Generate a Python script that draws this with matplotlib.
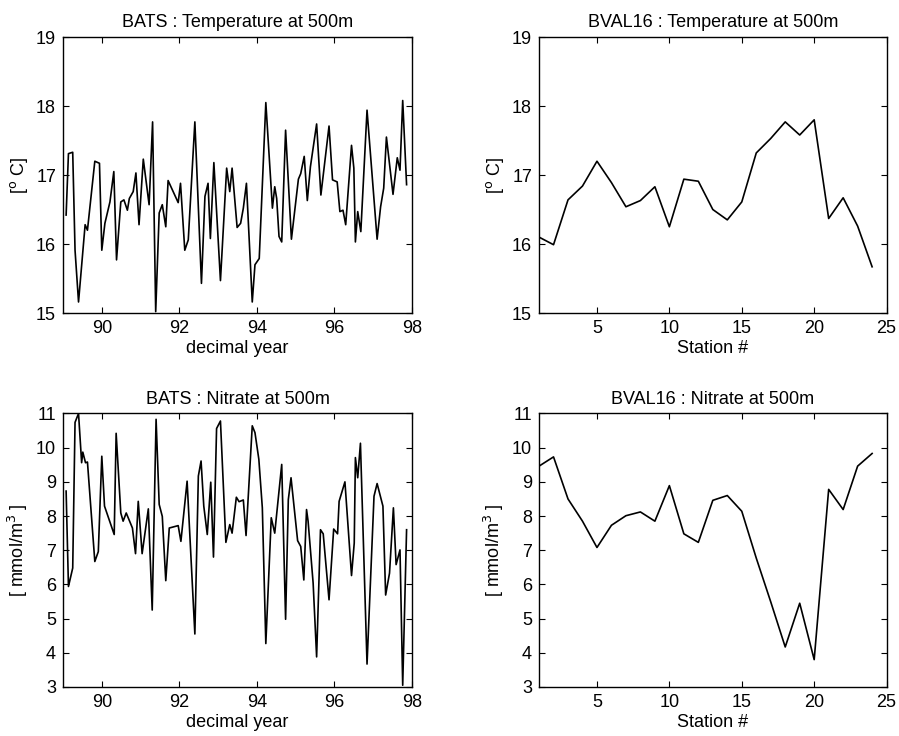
import numpy as np
import matplotlib
matplotlib.use("Agg")
import matplotlib.pyplot as plt

plt.rcParams['font.family'] = ['Liberation Sans', 'DejaVu Sans']
plt.rcParams['font.size'] = 13

# BATS temperature at 500m (decimal year, deg C)
bats_t_year = [89.08, 89.14, 89.25, 89.31, 89.40, 89.57, 89.63, 89.82, 89.94, 90.00,
               90.08, 90.21, 90.31, 90.38, 90.49, 90.57, 90.66, 90.71, 90.81, 90.88,
               90.96, 91.07, 91.22, 91.31, 91.39, 91.48, 91.56, 91.65, 91.71, 91.97,
               92.03, 92.14, 92.23, 92.40, 92.57, 92.66, 92.74, 92.80, 92.89, 93.06,
               93.22, 93.30, 93.36, 93.49, 93.58, 93.65, 93.73, 93.88, 93.95, 94.06,
               94.23, 94.40, 94.46, 94.51, 94.57, 94.64, 94.74, 94.89, 95.07, 95.13,
               95.22, 95.30, 95.38, 95.54, 95.65, 95.86, 95.95, 96.07, 96.14, 96.22,
               96.29, 96.44, 96.50, 96.54, 96.60, 96.68, 96.84, 97.10, 97.19, 97.27,
               97.34, 97.51, 97.62, 97.69, 97.76, 97.86]
bats_temp = [16.42, 17.31, 17.33, 15.91, 15.16, 16.28, 16.20, 17.20, 17.17, 15.91,
             16.30, 16.61, 17.05, 15.77, 16.61, 16.64, 16.49, 16.66, 16.76, 17.03,
             16.28, 17.23, 16.57, 17.77, 15.02, 16.45, 16.57, 16.25, 16.92, 16.60,
             16.88, 15.91, 16.06, 17.77, 15.43, 16.69, 16.88, 16.08, 17.18, 15.47,
             17.10, 16.76, 17.10, 16.24, 16.30, 16.52, 16.88, 15.16, 15.70, 15.79,
             18.05, 16.52, 16.83, 16.66, 16.11, 16.03, 17.65, 16.07, 16.94, 17.02,
             17.27, 16.63, 17.12, 17.74, 16.71, 17.71, 16.93, 16.90, 16.47, 16.49,
             16.28, 17.43, 17.10, 16.03, 16.47, 16.18, 17.94, 16.07, 16.54, 16.81,
             17.55, 16.72, 17.25, 17.07, 18.08, 16.86]

# BATS nitrate at 500m (decimal year, mmol/m3)
bats_n_year = [89.08, 89.14, 89.25, 89.31, 89.40, 89.48, 89.51, 89.58, 89.63, 89.82,
               89.91, 90.00, 90.07, 90.32, 90.37, 90.49, 90.55, 90.63, 90.79, 90.87,
               90.94, 91.04, 91.20, 91.30, 91.40, 91.48, 91.56, 91.65, 91.74, 91.97,
               92.04, 92.20, 92.40, 92.49, 92.56, 92.63, 92.72, 92.81, 92.88, 92.96,
               93.06, 93.20, 93.30, 93.36, 93.47, 93.54, 93.65, 93.72, 93.88, 93.95,
               94.05, 94.14, 94.23, 94.37, 94.46, 94.64, 94.74, 94.81, 94.88, 95.05,
               95.13, 95.21, 95.28, 95.32, 95.45, 95.54, 95.64, 95.71, 95.86, 95.98,
               96.08, 96.12, 96.27, 96.44, 96.51, 96.54, 96.60, 96.67, 96.84, 97.02,
               97.10, 97.25, 97.32, 97.42, 97.52, 97.59, 97.69, 97.76, 97.86]
bats_nitrate = [8.73, 5.94, 6.48, 10.74, 11.00, 9.56, 9.87, 9.56, 9.58, 6.67,
                6.96, 9.75, 8.29, 7.46, 10.42, 8.09, 7.85, 8.09, 7.65, 6.90,
                8.43, 6.90, 8.21, 5.25, 10.83, 8.34, 7.99, 6.11, 7.65, 7.72,
                7.26, 9.02, 4.55, 9.17, 9.61, 8.29, 7.46, 8.99, 6.80, 10.56,
                10.78, 7.23, 7.75, 7.50, 8.55, 8.42, 8.47, 7.43, 10.64, 10.44,
                9.66, 8.24, 4.27, 7.95, 7.50, 9.51, 4.98, 8.48, 9.12, 7.28,
                7.11, 6.13, 8.19, 7.85, 6.04, 3.88, 7.60, 7.48, 5.55, 7.62,
                7.48, 8.43, 9.00, 6.26, 7.21, 9.71, 9.12, 10.13, 3.67, 8.58,
                8.95, 8.29, 5.69, 6.33, 8.24, 6.58, 7.01, 3.05, 7.60]

# BVAL16 section, stations 1..24
stations = list(range(1, 25))
bval_temp = [16.10, 15.99, 16.64, 16.84, 17.20, 16.89, 16.54, 16.63, 16.83, 16.25,
             16.94, 16.91, 16.50, 16.35, 16.61, 17.32, 17.53, 17.77, 17.58, 17.80,
             16.37, 16.67, 16.26, 15.67]
bval_nitrate = [9.46, 9.73, 8.50, 7.85, 7.08, 7.73, 8.01, 8.12, 7.85, 8.89,
                7.48, 7.23, 8.46, 8.60, 8.14, 6.77, 5.49, 4.17, 5.45, 3.80,
                8.78, 8.19, 9.46, 9.83]

fig = plt.figure(figsize=(8.99, 7.36), dpi=100)
ax1 = fig.add_axes([0.0701, 0.5747, 0.3882, 0.3750])
ax2 = fig.add_axes([0.5996, 0.5747, 0.3866, 0.3750])
ax3 = fig.add_axes([0.0701, 0.0666, 0.3882, 0.3716])
ax4 = fig.add_axes([0.5996, 0.0666, 0.3866, 0.3716])

ax1.plot(bats_t_year, bats_temp, color='black', lw=1.2)
ax1.set_title("BATS : Temperature at 500m", fontsize=13, pad=7)
ax1.set_xlim(89, 98)
ax1.set_ylim(15, 19)
ax1.set_xticks([90, 92, 94, 96, 98])
ax1.set_yticks([15, 16, 17, 18, 19])
ax1.set_xlabel("decimal year", labelpad=2)
ax1.set_ylabel(r"[$^{\rm o}$ C]", labelpad=4)

ax2.plot(stations, bval_temp, color='black', lw=1.2)
ax2.set_title("BVAL16 : Temperature at 500m", fontsize=13, pad=7)
ax2.set_xlim(1, 25)
ax2.set_ylim(15, 19)
ax2.set_xticks([5, 10, 15, 20, 25])
ax2.set_yticks([15, 16, 17, 18, 19])
ax2.set_xlabel("Station #", labelpad=2)
ax2.set_ylabel(r"[$^{\rm o}$ C]", labelpad=4)

ax3.plot(bats_n_year, bats_nitrate, color='black', lw=1.2)
ax3.set_title("BATS : Nitrate at 500m", fontsize=13, pad=7)
ax3.set_xlim(89, 98)
ax3.set_ylim(3, 11)
ax3.set_xticks([90, 92, 94, 96, 98])
ax3.set_yticks(range(3, 12))
ax3.set_xlabel("decimal year", labelpad=2)
ax3.set_ylabel(r"[ mmol/m$^{\rm 3}$ ]", labelpad=4)

ax4.plot(stations, bval_nitrate, color='black', lw=1.2)
ax4.set_title("BVAL16 : Nitrate at 500m", fontsize=13, pad=7)
ax4.set_xlim(1, 25)
ax4.set_ylim(3, 11)
ax4.set_xticks([5, 10, 15, 20, 25])
ax4.set_yticks(range(3, 12))
ax4.set_xlabel("Station #", labelpad=2)
ax4.set_ylabel(r"[ mmol/m$^{\rm 3}$ ]", labelpad=4)

for ax in (ax1, ax2, ax3, ax4):
    ax.tick_params(direction='in', top=True, right=True, length=4, width=0.8,
                   labelsize=13, pad=5)
    for s in ax.spines.values():
        s.set_linewidth(1.0)

fig.savefig("out.png", dpi=100)
